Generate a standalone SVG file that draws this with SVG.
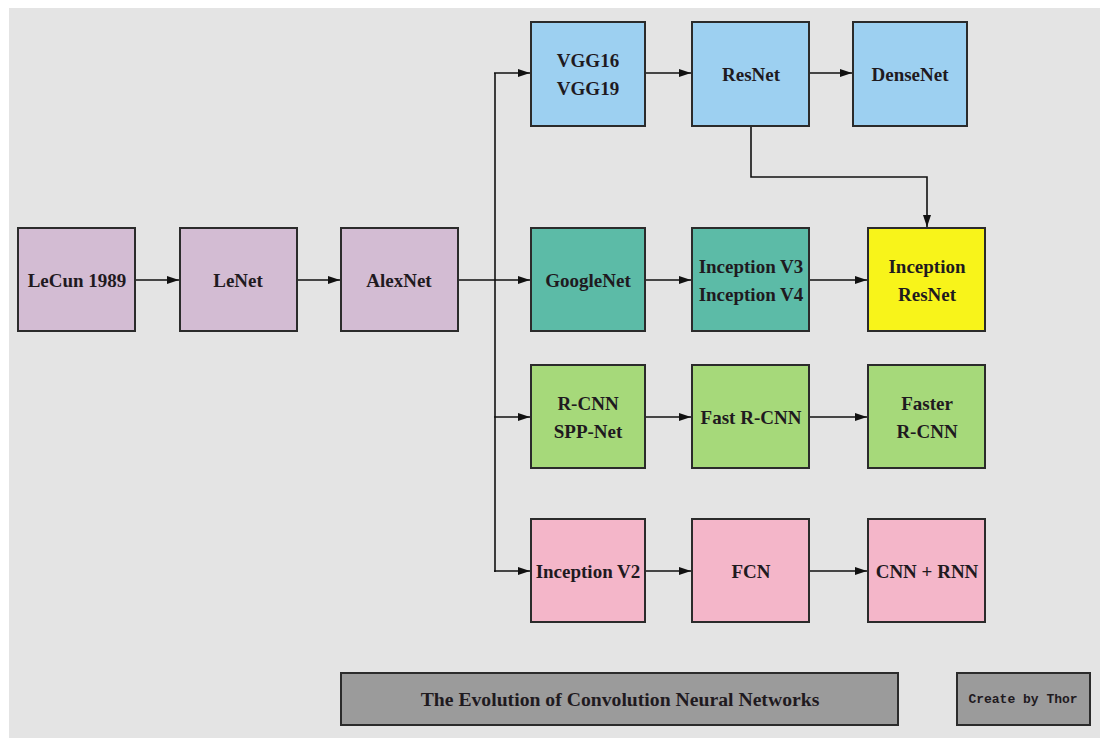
<svg xmlns="http://www.w3.org/2000/svg" width="1100" height="738" viewBox="0 0 1100 738">
<defs>
<style>
.n{stroke:#2b2b2b;stroke-width:2}
.t{font-family:"Liberation Serif",serif;font-weight:bold;font-size:19px;fill:#1f1a1f;text-anchor:middle;dominant-baseline:central}
.c{fill:none;stroke:#111;stroke-width:1.6}
.purple{fill:#d3bcd3}.blue{fill:#9dd0f1}.teal{fill:#5cbba7}.yellow{fill:#f8f41a}.green{fill:#a6d97a}.pink{fill:#f4b6c9}.gray{fill:#9b9b9b}
</style>
<marker id="ah" viewBox="0 0 12 10" refX="12" refY="5" markerWidth="12" markerHeight="10" markerUnits="userSpaceOnUse" orient="auto">
<path d="M0,1 L12,5 L0,9 Z" fill="#111"/>
</marker>
</defs>
<rect x="0" y="0" width="1100" height="738" fill="#ffffff"/>
<rect x="9" y="8" width="1091" height="730" fill="#e4e4e4"/>

<g id="connectors">
<line class="c" x1="135" y1="280" x2="179" y2="280" marker-end="url(#ah)"/>
<line class="c" x1="297" y1="280" x2="340" y2="280" marker-end="url(#ah)"/>
<line class="c" x1="458" y1="280" x2="530" y2="280" marker-end="url(#ah)"/>
<line class="c" x1="495" y1="73" x2="495" y2="572"/>
<line class="c" x1="494" y1="73" x2="530" y2="73" marker-end="url(#ah)"/>
<line class="c" x1="494" y1="417" x2="530" y2="417" marker-end="url(#ah)"/>
<line class="c" x1="494" y1="571" x2="530" y2="571" marker-end="url(#ah)"/>
<line class="c" x1="645" y1="73" x2="691" y2="73" marker-end="url(#ah)"/>
<line class="c" x1="809" y1="73" x2="852" y2="73" marker-end="url(#ah)"/>
<line class="c" x1="645" y1="280" x2="691" y2="280" marker-end="url(#ah)"/>
<line class="c" x1="809" y1="280" x2="867" y2="280" marker-end="url(#ah)"/>
<line class="c" x1="645" y1="417" x2="691" y2="417" marker-end="url(#ah)"/>
<line class="c" x1="809" y1="417" x2="867" y2="417" marker-end="url(#ah)"/>
<line class="c" x1="645" y1="571" x2="691" y2="571" marker-end="url(#ah)"/>
<line class="c" x1="809" y1="571" x2="867" y2="571" marker-end="url(#ah)"/>
<polyline class="c" points="751,126 751,177 927,177 927,227" marker-end="url(#ah)"/>
</g>

<g id="lecun"><rect class="n purple" x="18" y="228" width="117" height="103"/><text class="t" x="77" y="280">LeCun 1989</text></g>
<g id="lenet"><rect class="n purple" x="180" y="228" width="117" height="103"/><text class="t" x="238" y="280">LeNet</text></g>
<g id="alexnet"><rect class="n purple" x="341" y="228" width="117" height="103"/><text class="t" x="399" y="280">AlexNet</text></g>

<g id="vgg"><rect class="n blue" x="531" y="22" width="114" height="104"/><text class="t" x="588" y="60">VGG16</text><text class="t" x="588" y="88">VGG19</text></g>
<g id="resnet"><rect class="n blue" x="692" y="22" width="117" height="104"/><text class="t" x="751" y="74">ResNet</text></g>
<g id="densenet"><rect class="n blue" x="853" y="22" width="114" height="104"/><text class="t" x="910" y="74">DenseNet</text></g>

<g id="googlenet"><rect class="n teal" x="531" y="228" width="114" height="103"/><text class="t" x="588" y="280">GoogleNet</text></g>
<g id="inceptionv3v4"><rect class="n teal" x="692" y="228" width="117" height="103"/><text class="t" x="751" y="266">Inception V3</text><text class="t" x="751" y="294">Inception V4</text></g>
<g id="inceptionresnet"><rect class="n yellow" x="868" y="228" width="117" height="103"/><text class="t" x="927" y="266">Inception</text><text class="t" x="927" y="294">ResNet</text></g>

<g id="rcnn"><rect class="n green" x="531" y="365" width="114" height="103"/><text class="t" x="588" y="403">R-CNN</text><text class="t" x="588" y="431">SPP-Net</text></g>
<g id="fastrcnn"><rect class="n green" x="692" y="365" width="117" height="103"/><text class="t" x="751" y="417">Fast R-CNN</text></g>
<g id="fasterrcnn"><rect class="n green" x="868" y="365" width="117" height="103"/><text class="t" x="927" y="403">Faster</text><text class="t" x="927" y="431">R-CNN</text></g>

<g id="inceptionv2"><rect class="n pink" x="531" y="519" width="114" height="103"/><text class="t" x="588" y="571">Inception V2</text></g>
<g id="fcn"><rect class="n pink" x="692" y="519" width="117" height="103"/><text class="t" x="751" y="571">FCN</text></g>
<g id="cnnrnn"><rect class="n pink" x="868" y="519" width="117" height="103"/><text class="t" x="927" y="571">CNN + RNN</text></g>

<g id="title"><rect class="n gray" x="341" y="673" width="557" height="52"/><text class="t" x="620" y="699" style="font-size:19.7px">The Evolution of Convolution Neural Networks</text></g>
<g id="credit"><rect class="n gray" x="957" y="673" width="133" height="52"/><text class="t" x="1023" y="699" style="font-family:'Liberation Mono',monospace;font-size:13px">Create by Thor</text></g>
</svg>
